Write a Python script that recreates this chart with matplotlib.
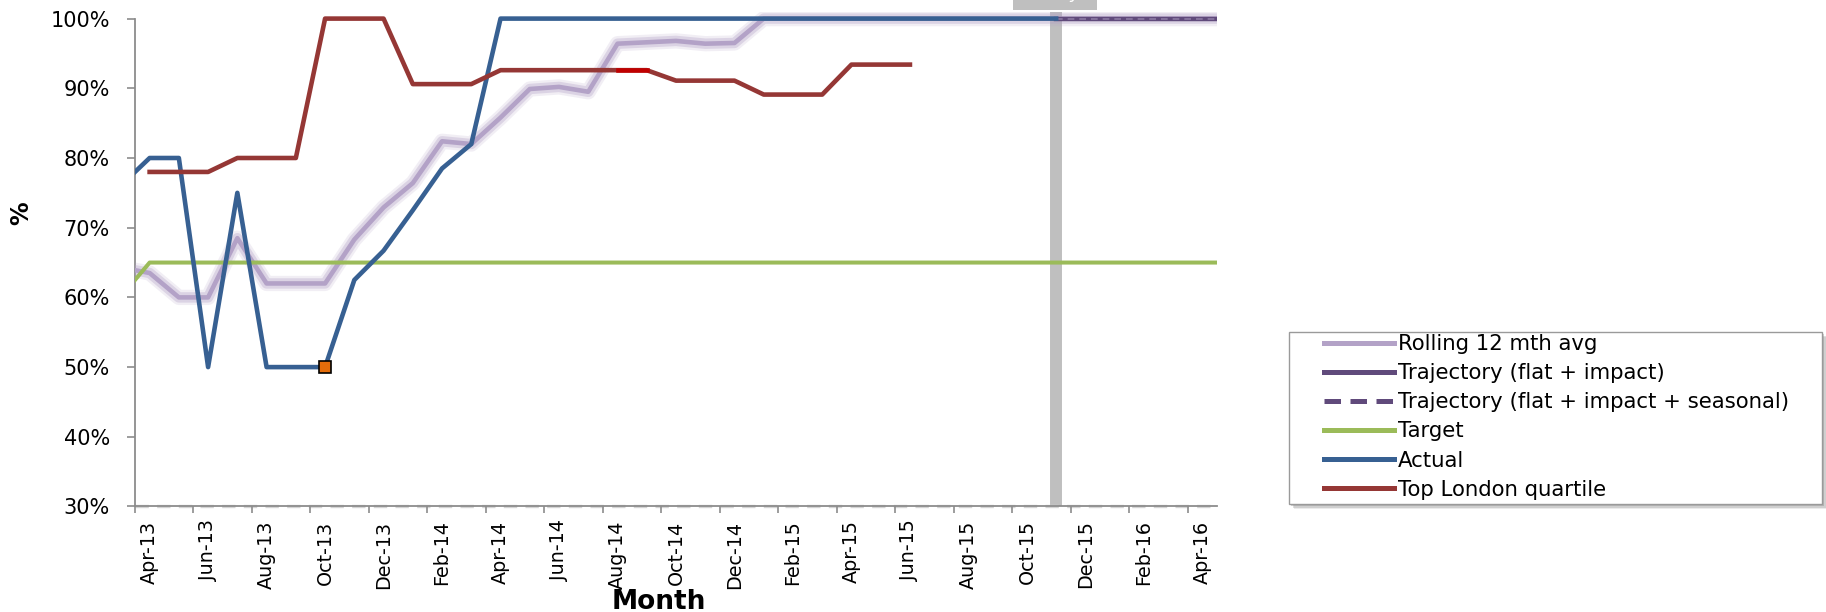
import matplotlib.pyplot as plt
import matplotlib.patheffects as pe
from matplotlib.lines import Line2D
from matplotlib.patches import Rectangle
import numpy as np

nan = np.nan

# categories (Mar-13 and May-16 only give the lead-in / lead-out clipped at the edges)
months = ["Mar-13", "Apr-13", "May-13", "Jun-13", "Jul-13", "Aug-13", "Sep-13", "Oct-13",
          "Nov-13", "Dec-13", "Jan-14", "Feb-14", "Mar-14", "Apr-14", "May-14", "Jun-14",
          "Jul-14", "Aug-14", "Sep-14", "Oct-14", "Nov-14", "Dec-14", "Jan-15", "Feb-15",
          "Mar-15", "Apr-15", "May-15", "Jun-15", "Jul-15", "Aug-15", "Sep-15", "Oct-15",
          "Nov-15", "Dec-15", "Jan-16", "Feb-16", "Mar-16", "Apr-16", "May-16"]
last_shown = "Apr-16"

rolling = [64.3, 63.5, 60, 60, 68.5, 62, 62, 62, 68.3, 72.9, 76.4, 82.4, 82, 85.8, 89.9,
           90.2, 89.5, 96.4, 96.6, 96.8, 96.4, 96.5] + [100] * 17
trajectory = [nan] * 32 + [100] * 7
trajectory_seasonal = [nan] * 32 + [100] * 7
target = [60] + [65] * 38
actual = [76, 80, 80, 50, 75, 50, 50, 50, 62.5, 66.7, 72.5, 78.5, 82] + [100] * 20 + [nan] * 6
london = [nan, 78, 78, 78, 80, 80, 80, 100, 100, 100, 90.6, 90.6, 90.6, 92.6, 92.6, 92.6,
          92.6, 92.6, 92.6, 91.1, 91.1, 91.1, 89.1, 89.1, 89.1, 93.4, 93.4, 93.4] + [nan] * 11

highlight = ["Aug-14", "Sep-14"]   # red bit of the London line
flagged = "Oct-13"                 # orange square on Actual
today = "Nov-15"

x = np.arange(len(months))
n_shown = months.index(last_shown)

plt.rcParams["font.family"] = "DejaVu Sans"

fig = plt.figure(figsize=(18.26, 6.12), dpi=100)
ax = fig.add_axes([0.07393, 0.17239, 0.59255, 0.80861])

# vertical marker for "today"
ax.axvline(months.index(today), color="#BFBFBF", lw=8.6, zorder=1)

glow = [pe.Stroke(linewidth=11, foreground="#B3A2C7", alpha=0.18),
        pe.Stroke(linewidth=7.5, foreground="#B3A2C7", alpha=0.35),
        pe.Normal()]
ax.plot(x, rolling, color="#B3A2C7", lw=3.3, zorder=3, path_effects=glow)
ax.plot(x, target, color="#9BBB59", lw=2.9, zorder=4)
ax.plot(x, trajectory, color="#604A7B", lw=3.2, zorder=4)
ax.plot(x, trajectory_seasonal, color="#8C7AA3", lw=1.2, ls=(0, (4, 3)), zorder=4)
ax.plot(x, actual, color="#376092", lw=3.3, zorder=5)
ax.plot(x, london, color="#953735", lw=3.3, zorder=5)
i0, i1 = months.index(highlight[0]), months.index(highlight[1])
ax.plot(x[i0:i1 + 1], london[i0:i1 + 1], color="#C00000", lw=3.3, zorder=6)
k = months.index(flagged)
ax.plot(x[k], actual[k], "s", color="#E46C0A", mec="black", mew=1.2, ms=9, zorder=7)

# dashed baseline under the x axis
ax.axhline(30, color="#D4D4D4", lw=2.4, ls=(0, (4, 2.5)), zorder=1, clip_on=False)

ax.set_xlim(0.5, n_shown + 0.5)
ax.set_ylim(30, 101)

for s in ["top", "right"]:
    ax.spines[s].set_visible(False)
ax.spines["left"].set_bounds(30, 100)
for s in ["left", "bottom"]:
    ax.spines[s].set_color("#8C8C8C")
    ax.spines[s].set_linewidth(1.3)

yt = np.arange(30, 101, 10)
ax.set_yticks(yt)
ax.set_yticklabels([f"{v}%" for v in yt])
ax.tick_params(axis="y", length=6, width=1.2, color="#8C8C8C", pad=12, labelsize=15)

ax.set_xticks(x[1:n_shown + 1:2])
ax.set_xticklabels(months[1:n_shown + 1:2], rotation=90, va="top", ha="center")
ax.set_xticks(np.arange(0.5, n_shown, 2), minor=True)
ax.tick_params(axis="x", which="major", length=0, pad=10, labelsize=13.8)
ax.tick_params(axis="x", which="minor", length=5, width=1.2, color="#8C8C8C")

fig.text(659 / 1826, 1 - 602 / 612, "Month", ha="center", va="center",
         fontsize=19, fontweight="bold")
fig.text(21 / 1826, 1 - 213 / 612, "%", ha="center", va="center", rotation=90,
         fontsize=17, fontweight="bold")

# label box for the marker, mostly cut off by the top edge
fig.patches.append(Rectangle((1013 / 1826, 1 - 10 / 612), 84 / 1826, 10 / 612,
                             transform=fig.transFigure, facecolor="#BFBFBF",
                             edgecolor="none"))
fig.text(1055 / 1826, 1 + 1.5 / 612, "Today", ha="center", va="baseline",
         color="white", fontsize=13, fontstyle="italic")

# legend frame with a soft shadow, drawn by hand
fx0, fx1, fy0, fy1 = 1289, 1822, 332, 504
for off, a in [(5, 0.15), (3.5, 0.25), (2, 0.35)]:
    fig.patches.append(Rectangle(((fx0 + off) / 1826, 1 - (fy1 + off) / 612),
                                 (fx1 - fx0) / 1826, (fy1 - fy0) / 612,
                                 transform=fig.transFigure, facecolor="#7F7F7F",
                                 edgecolor="none", alpha=a, zorder=0))
fig.patches.append(Rectangle((fx0 / 1826, 1 - fy1 / 612),
                             (fx1 - fx0) / 1826, (fy1 - fy0) / 612,
                             transform=fig.transFigure, facecolor="white",
                             edgecolor="#9A9A9A", lw=1.0, zorder=0))

handles = [
    Line2D([], [], color="#B3A2C7", lw=3.6),
    Line2D([], [], color="#604A7B", lw=3.6),
    Line2D([], [], color="#604A7B", lw=3.6, ls=(0, (3.3, 1.9))),
    Line2D([], [], color="#9BBB59", lw=3.6),
    Line2D([], [], color="#376092", lw=3.6),
    Line2D([], [], color="#953735", lw=3.6),
]
labels = ["Rolling 12 mth avg", "Trajectory (flat + impact)",
          "Trajectory (flat + impact + seasonal)", "Target", "Actual",
          "Top London quartile"]
fig.legend(handles, labels, loc="upper left",
           bbox_to_anchor=(1324 / 1826, 1 - 334 / 612),
           bbox_transform=fig.transFigure, fontsize=15.3, frameon=False,
           handlelength=3.3, handletextpad=0.17, labelspacing=0.43,
           borderpad=0, borderaxespad=0)

fig.savefig("out.png", dpi=100)
